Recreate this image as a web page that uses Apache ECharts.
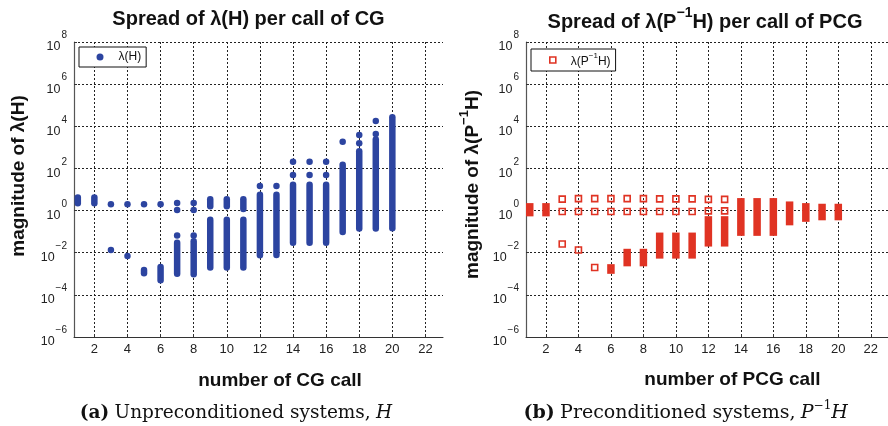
<!DOCTYPE html>
<html>
<head>
<meta charset="utf-8">
<script src="https://cdn.jsdelivr.net/npm/echarts@6/dist/echarts.min.js"></script>
<style>
  html, body { margin: 0; padding: 0; background: #fff; }
  #chart { width: 888px; height: 426px; }
</style>
</head>
<body>
<div id="chart"></div>
<script>
// ticks (both panels)
const callTicks = [2, 4, 6, 8, 10, 12, 14, 16, 18, 20, 22];
const magTicks = [1e-6, 1e-4, 1e-2, 1, 1e2, 1e4, 1e6, 1e8];

// (a) CG: single eigenvalues of H, [call, value]
const cgPoints = [
  [3, 2.0], [3, 0.0135],
  [4, 2.0], [4, 0.007],
  [5, 2.0], [6, 2.0],
  [7, 2.3], [7, 1.07], [7, 0.066],
  [8, 2.3], [8, 1.07], [8, 0.066],
  [12, 14.7], [13, 14.7],
  [14, 209], [14, 49], [15, 209], [15, 49], [16, 209], [16, 49],
  [17, 1860],
  [18, 3880], [18, 1560],
  [19, 17800], [19, 4300],
];
// (a) CG: dense runs of eigenvalues, [call, lowest, highest]
const cgRuns = [
  [1, 2.2, 4.2], [2, 2.2, 4.2],
  [5, 0.00107, 0.0015],
  [6, 0.0005, 0.0021],
  [7, 0.001, 0.030],
  [8, 0.00095, 0.035],
  [9, 1.6, 3.4], [9, 0.002, 0.37],
  [10, 1.6, 3.4], [10, 0.002, 0.37],
  [11, 1.2, 3.4], [11, 0.002, 0.37],
  [12, 0.0076, 5.6], [13, 0.0078, 5.6],
  [14, 0.030, 17], [15, 0.030, 17], [16, 0.030, 17],
  [17, 0.095, 150],
  [18, 0.14, 650],
  [19, 0.14, 2340],
  [20, 0.145, 27000],
];

// (b) PCG: single eigenvalues of P^-1 H
const pcgPoints = [
  [3, 3.5], [3, 0.9], [3, 0.026],
  [4, 3.7], [4, 0.9], [4, 0.0135],
  [5, 3.7], [5, 0.9], [5, 0.002],
  [6, 3.7], [6, 0.9],
  [7, 3.7], [7, 0.9], [8, 3.7], [8, 0.9],
  [9, 3.6], [9, 0.9], [10, 3.6], [10, 0.9], [11, 3.6], [11, 0.9],
  [12, 3.4], [12, 0.97], [13, 3.4], [13, 0.97],
];
// (b) PCG: dense runs
const pcgRuns = [
  [1, 0.8, 1.5], [2, 0.8, 1.5],
  [6, 0.0015, 0.0019],
  [7, 0.0034, 0.0102], [8, 0.0034, 0.0102],
  [9, 0.0079, 0.060], [10, 0.0079, 0.060], [11, 0.0079, 0.060],
  [12, 0.0295, 0.36], [13, 0.0295, 0.36],
  [14, 0.095, 2.6], [15, 0.095, 2.6], [16, 0.095, 2.6],
  [17, 0.30, 1.8], [18, 0.44, 1.5], [19, 0.52, 1.4], [20, 0.52, 1.4],
];

const BLUE = '#2c44a0';
const RED = '#e03323';
const FONT = 'Liberation Sans';
const SERIF = 'DejaVu Serif';
const NAME_A = 'λ(H)';
const NAME_B = 'λ(P⁻¹H)';

function powLabel(v) {
  const e = Math.round(Math.log10(v));
  return '{b|10}{s|' + (e < 0 ? '−' + (-e) : e) + '}';
}

function xAxisFor(gi) {
  return {
    type: 'value', gridIndex: gi, min: 0.77, max: 23.06,
    axisLine: { show: true, onZero: false, lineStyle: { color: '#333', width: 1 } },
    axisTick: { show: true, inside: true, length: 3, customValues: callTicks, lineStyle: { color: '#333' } },
    axisLabel: { customValues: callTicks, color: '#222', fontSize: 13, fontFamily: FONT, margin: 6 },
    splitLine: { show: true, lineStyle: { color: '#222', type: [2, 2], width: 1 } },
  };
}

function yAxisFor(gi) {
  return {
    type: 'log', logBase: 10, gridIndex: gi, min: 1e-6, max: 1e8,
    axisLine: { show: true, lineStyle: { color: '#555', width: 1.2 } },
    axisTick: { show: true, inside: true, length: 3, customValues: magTicks, lineStyle: { color: '#333' } },
    axisLabel: {
      customValues: magTicks, margin: 7, formatter: powLabel, color: '#222',
      rich: {
        b: { fontSize: 12.5, fontFamily: FONT, color: '#222', lineHeight: 23, verticalAlign: 'bottom' },
        s: { fontSize: 10, fontFamily: FONT, color: '#222', lineHeight: 10, verticalAlign: 'top', padding: [0, 0, 0, 1] },
      },
    },
    splitLine: { show: true, lineStyle: { color: '#222', type: [2, 2], width: 1 } },
  };
}

function runSeries(name, data, gi, color, width, cap) {
  return {
    name, type: 'custom', xAxisIndex: gi, yAxisIndex: gi, data,
    encode: { x: 0, y: [1, 2] },
    renderItem(params, api) {
      const lo = api.coord([api.value(0), api.value(1)]);
      const hi = api.coord([api.value(0), api.value(2)]);
      return {
        type: 'line',
        shape: { x1: lo[0], y1: lo[1], x2: hi[0], y2: hi[1] },
        style: { stroke: color, lineWidth: width, lineCap: cap },
      };
    },
  };
}

function txt(x, y, text, opts) {
  return Object.assign({
    type: 'text', x, y,
    style: Object.assign({
      text, fill: '#111', fontFamily: FONT, fontSize: 19, fontWeight: 'bold',
      align: 'center', verticalAlign: 'middle', textAlign: 'center', textVerticalAlign: 'middle',
    }, opts.style || {}),
  }, opts.el || {});
}

// bold sans text with a raised exponent
const supRich = (size, extra) => ({
  t: { fontSize: size, fontWeight: 'bold', fontFamily: FONT, color: '#111', lineHeight: size + extra, verticalAlign: 'bottom' },
  s: { fontSize: Math.round(size * 0.68), fontWeight: 'bold', fontFamily: FONT, color: '#111', lineHeight: Math.round(size * 0.68), verticalAlign: 'top' },
});

const serifRich = (size) => {
  const base = { fontFamily: SERIF, fontSize: size, color: '#111', lineHeight: size + 4, verticalAlign: 'bottom' };
  return {
    a: Object.assign({}, base, { fontWeight: 'bold' }),
    r: Object.assign({}, base, { fontWeight: 'normal' }),
    i: Object.assign({}, base, { fontWeight: 'normal', fontStyle: 'italic' }),
    s: { fontFamily: SERIF, fontSize: Math.round(size * 0.65), color: '#111', lineHeight: Math.round(size * 0.65), verticalAlign: 'top' },
  };
};

const chart = echarts.init(document.getElementById('chart'));
chart.setOption({
  animation: false,
  backgroundColor: '#fff',
  grid: [
    { left: 74, top: 42, width: 369, height: 295 },
    { left: 526, top: 42, width: 366, height: 295 },
  ],
  xAxis: [xAxisFor(0), xAxisFor(1)],
  yAxis: [yAxisFor(0), yAxisFor(1)],
  legend: [
    {
      left: 79, top: 47, padding: [4, 5, 4, 17.5], itemWidth: 7, itemHeight: 7,
      borderColor: '#111', borderWidth: 1, backgroundColor: '#fff', selectedMode: false,
      formatter: () => '{b0|λ(H)}',
      textStyle: {
        rich: { b0: { fontFamily: FONT, fontSize: 12, color: '#111', padding: [0, 0, 0, 10] } },
      },
      data: [{ name: NAME_A, icon: 'circle', itemStyle: { color: BLUE } }],
    },
    {
      left: 531, top: 49, padding: [3, 5, 3, 18], itemWidth: 6, itemHeight: 6,
      borderColor: '#111', borderWidth: 1, backgroundColor: '#fff', selectedMode: false,
      formatter: () => '{b0|λ(P}{s|−1}{b|H)}',
      textStyle: {
        rich: {
          b0: { fontFamily: FONT, fontSize: 12, color: '#111', lineHeight: 16, verticalAlign: 'bottom', padding: [0, 0, 0, 10] },
          b: { fontFamily: FONT, fontSize: 12, color: '#111', lineHeight: 16, verticalAlign: 'bottom' },
          s: { fontFamily: FONT, fontSize: 8, color: '#111', lineHeight: 8, verticalAlign: 'top' },
        },
      },
      data: [{ name: NAME_B, icon: 'rect', itemStyle: { color: '#fff', borderColor: RED, borderWidth: 1.6 } }],
    },
  ],
  series: [
    {
      name: NAME_A, type: 'scatter', xAxisIndex: 0, yAxisIndex: 0, data: cgPoints,
      symbol: 'circle', symbolSize: 6.5, itemStyle: { color: BLUE, opacity: 1 },
    },
    runSeries(NAME_A, cgRuns, 0, BLUE, 6.5, 'round'),
    {
      name: NAME_B, type: 'scatter', xAxisIndex: 1, yAxisIndex: 1, data: pcgPoints,
      symbol: 'rect', symbolSize: 6,
      itemStyle: { color: 'rgba(255,255,255,0)', borderColor: RED, borderWidth: 1.6, opacity: 1 },
    },
    runSeries(NAME_B, pcgRuns, 1, RED, 7.5, 'square'),
  ],
  graphic: [
    txt(248.5, 19, 'Spread of λ(H) per call of CG', { style: { fontSize: 20 } }),
    txt(705, 19, '{t|Spread of λ(P}{s|−1}{t|H) per call of PCG}', { style: { rich: supRich(20, 6) } }),
    txt(280, 381, 'number of CG call', {}),
    txt(732.5, 380, 'number of PCG call', {}),
    txt(19, 176, 'magnitude of λ(H)', { el: { rotation: Math.PI / 2 } }),
    txt(470, 184.5, '{t|magnitude of λ(P}{s|−1}{t|H)}', { el: { rotation: Math.PI / 2 }, style: { rich: supRich(19, 6) } }),
    txt(236, 411, '{a|(a)} {r|Unpreconditioned systems,} {i|H}', { style: { rich: serifRich(18.5) } }),
    txt(685.7, 411, '{a|(b)} {r|Preconditioned systems,} {i|P}{s|−1}{i|H}', { style: { rich: serifRich(19) } }),
  ],
});
</script>
</body>
</html>
